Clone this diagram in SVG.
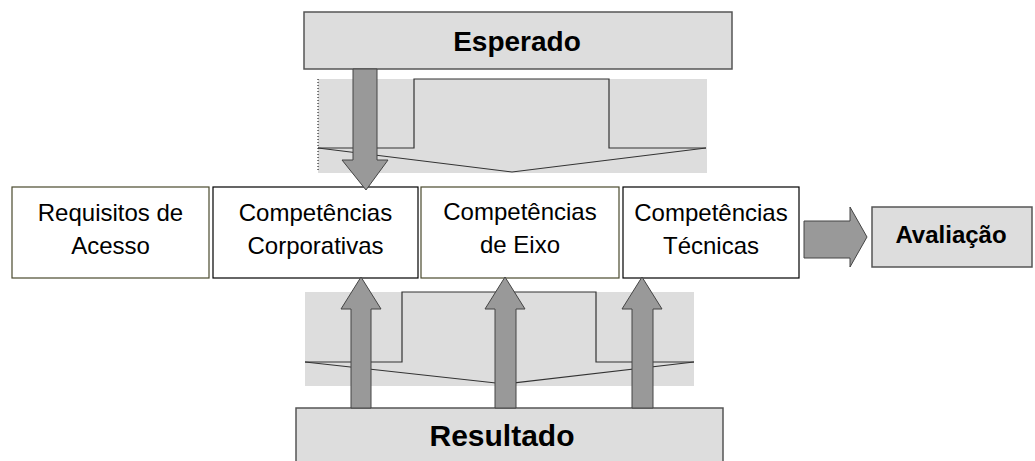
<svg xmlns="http://www.w3.org/2000/svg" width="1035" height="461" viewBox="0 0 1035 461">
<style>
.panel{fill:#dddddd;stroke:none}
.wave{fill:none;stroke:#333333;stroke-width:1.2}
.arrow{fill:#999999;stroke:#444444;stroke-width:1}
.box{fill:#ffffff;stroke:#000000;stroke-width:1.2}
.obox{fill:#ffffff;stroke:#4a4a2e;stroke-width:1.2}
.gbox{fill:#dddddd;stroke:#555555;stroke-width:1.5}
.t{font-family:"Liberation Sans",Arial,sans-serif;font-size:24px;fill:#000;text-anchor:middle}
.b{font-family:"Liberation Sans",Arial,sans-serif;font-weight:bold;fill:#000;text-anchor:middle}
</style>
<rect width="1035" height="461" fill="#ffffff"/>
<g id="upper-panel">
<rect class="panel" x="318" y="79" width="389" height="94"/>
<line x1="318" y1="79" x2="318" y2="172" stroke="#000" stroke-width="1" stroke-dasharray="1,2"/>
<polyline class="wave" points="318,148 414,148 414,79 609,79 609,148 706,148"/>
<polyline class="wave" points="318,148 512,172 706,148"/>
</g>
<g id="lower-panel">
<rect class="panel" x="305" y="292" width="389" height="94"/>
<polyline class="wave" points="305,362 402,362 402,292 596,292 596,362 694,362"/>
<polyline class="wave" points="305,362 505,384 694,362"/>
</g>
<g id="esperado">
<rect class="gbox" x="304" y="12" width="428" height="57"/>
<text class="b" x="517" y="51" font-size="28">Esperado</text>
</g>
<g id="resultado">
<rect class="gbox" x="296" y="408" width="427" height="60"/>
<text class="b" x="502" y="446" font-size="30">Resultado</text>
</g>
<g id="requisitos">
<rect class="obox" x="12" y="187" width="197" height="91"/>
<text class="t" x="110.5" y="221">Requisitos de</text>
<text class="t" x="110.5" y="254">Acesso</text>
</g>
<g id="corporativas">
<rect class="box" x="213" y="187" width="205" height="91"/>
<text class="t" x="315.5" y="221">Competências</text>
<text class="t" x="315.5" y="254">Corporativas</text>
</g>
<g id="eixo">
<rect class="obox" x="421" y="187" width="198" height="91"/>
<text class="t" x="520" y="220">Competências</text>
<text class="t" x="520" y="253">de Eixo</text>
</g>
<g id="tecnicas">
<rect class="box" x="623" y="187" width="176" height="91"/>
<text class="t" x="711" y="221">Competências</text>
<text class="t" x="711" y="254">Técnicas</text>
</g>
<g id="avaliacao">
<rect class="gbox" x="872" y="207" width="160" height="60"/>
<text class="b" x="951" y="243" font-size="24">Avaliação</text>
</g>
<g id="connectors">
<polygon class="arrow" points="353,69 377,69 377,160 388,160 366,190 342,160 353,160"/>
<polygon class="arrow" points="351,408 351,309 341,309 361,277 381,309 371,309 371,408"/>
<polygon class="arrow" points="495,408 495,309 485,309 505,277 525,309 516,309 516,408"/>
<polygon class="arrow" points="632,408 632,309 622,309 642,277 662,309 653,309 653,408"/>
<polygon class="arrow" points="804,221 850,221 850,207 867,237 850,267 850,258 804,258"/>
</g>
</svg>
